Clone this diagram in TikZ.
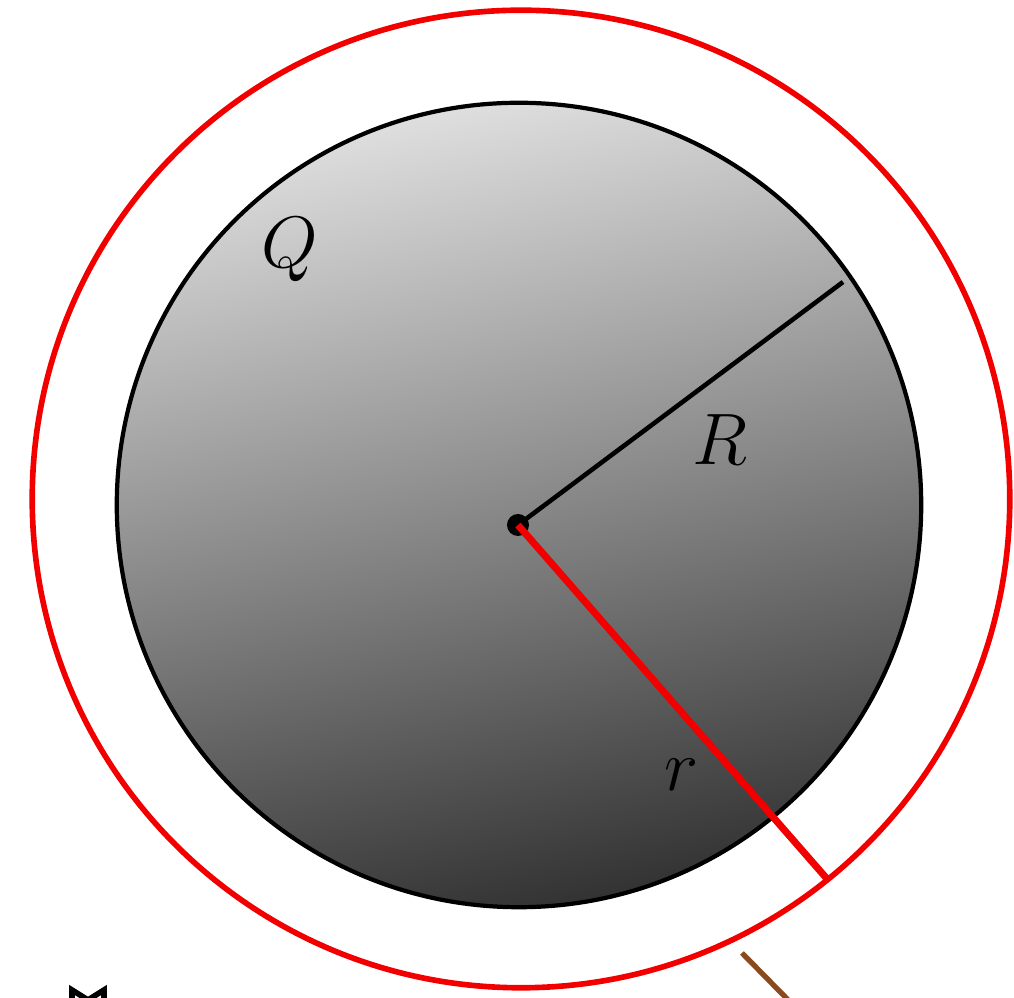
\documentclass[tikz,border=0pt]{standalone}
\usetikzlibrary{positioning}
\definecolor{rimred}{HTML}{F20000}
\definecolor{twig}{HTML}{8A4A1E}

\begin{document}
\begin{tikzpicture}[x=0.01cm,y=-0.01cm,font=\fontsize{22}{26}\selectfont]
    \useasboundingbox (0,0) rectangle (1014,998);
    \clip (0,0) rectangle (1014,998);
    \coordinate (c) at (519,505);
    \coordinate (g) at (521,499);
    \shade[top color=black!13,middle color=black!31,bottom color=black!80,shading angle=12,draw=black,line width=1.2pt] (c) circle (4.02cm);
    \draw[rimred,line width=1.6pt] (g) circle (4.885cm);
    \node (o) [circle,fill,inner sep=0pt,minimum size=0.22cm] at (518,525) {};
    \coordinate (rend) at (843,282);
    \coordinate (send) at (828,880);
    \draw[line width=1.3pt] (o.center) -- (rend);
    \draw[rimred,line width=2pt] (o.center) -- (send);
    \node (q) at (290,250) {$Q$};
    \node (rr) at (720,440) {$R$};
    \node (r) at (682,775) {$r$};
    \coordinate (t1) at (742,953);
    \coordinate (t2) at (800,1012);
    \draw[twig,line width=1.5pt] (t1) -- (t2);
    \draw[line width=1.6pt,line join=miter] (72,1004) -- (72,990) -- (88,1000) -- (104,990) -- (104,1004);
\end{tikzpicture}
\end{document}
